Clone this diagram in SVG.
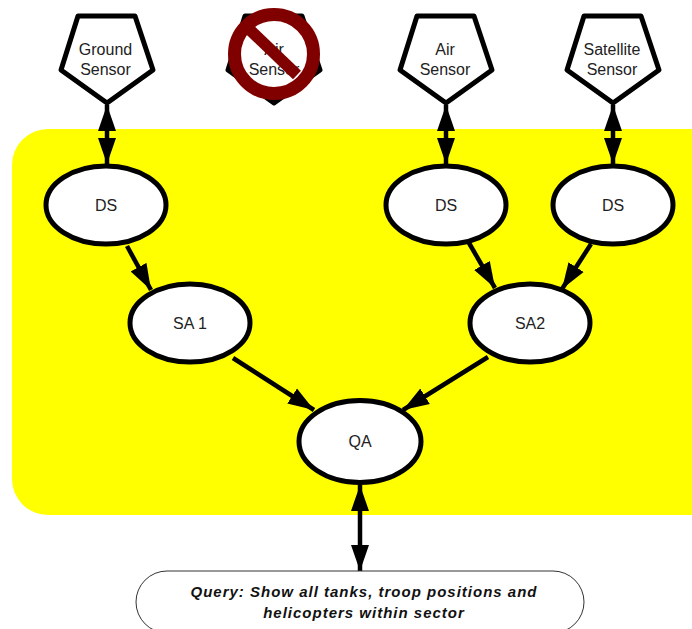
<svg xmlns="http://www.w3.org/2000/svg" width="692" height="629" viewBox="0 0 692 629">
<style>
text{font-family:"Liberation Sans",Arial,sans-serif;font-size:16px;fill:#222;text-anchor:middle}
.n{fill:#fff;stroke:#000;stroke-width:5}
.p{fill:#fff;stroke:#000;stroke-width:5;stroke-linejoin:round}
.c{stroke:#000;stroke-width:4.500;fill:none}
.q{font-size:15px;font-weight:bold;font-style:italic;letter-spacing:1px;fill:#111}
</style>
<defs>
<marker id="a" markerUnits="userSpaceOnUse" markerWidth="27" markerHeight="20" refX="26" refY="10" viewBox="0 0 27 20" orient="auto-start-reverse"><path d="M0 1L26 10L0 19Z" fill="#000"/></marker>
</defs>
<rect id="region" x="12" y="129" width="720" height="386" rx="36" fill="#ff0"/>
<g id="connectors">
<path class="c" d="M107 105V164" marker-start="url(#a)" marker-end="url(#a)"/>
<path class="c" d="M446 105V164" marker-start="url(#a)" marker-end="url(#a)"/>
<path class="c" d="M613 105V164" marker-start="url(#a)" marker-end="url(#a)"/>
<path class="c" d="M127 246L151 290" marker-end="url(#a)"/>
<path class="c" d="M469 243L495 288" marker-end="url(#a)"/>
<path class="c" d="M591 244L562 289" marker-end="url(#a)"/>
<path class="c" d="M233 358L314 410" marker-end="url(#a)"/>
<path class="c" d="M488 357L403 410" marker-end="url(#a)"/>
<path class="c" d="M360 485V571" marker-start="url(#a)" marker-end="url(#a)"/>
</g>
<g id="ground-sensor"><path class="p" d="M78 16H135L153 70L107 103L61 70Z"/><text x="105.500" y="55">Ground</text><text x="105.500" y="75">Sensor</text></g>
<g id="air-sensor-disabled"><path class="p" d="M245 16H302L320 70L274 103L228 70Z"/><text x="274" y="55">Air</text><text x="274" y="75">Sensor</text></g>
<g id="air-sensor"><path class="p" d="M417 16H474L492 70L446 103L400 70Z"/><text x="445" y="55">Air</text><text x="445" y="75">Sensor</text></g>
<g id="satellite-sensor"><path class="p" d="M584 16H641L659 70L613 103L567 70Z"/><text x="612" y="55">Satellite</text><text x="612" y="75">Sensor</text></g>
<g id="no-sign" fill="none" stroke="#800000" stroke-width="13"><circle cx="274" cy="54" r="39.500"/><path stroke-width="11.500" d="M249 29L297 75"/></g>
<g id="ds1"><ellipse class="n" cx="106" cy="205" rx="60" ry="39"/><text x="106" y="211">DS</text></g>
<g id="ds2"><ellipse class="n" cx="446" cy="205" rx="60" ry="39"/><text x="446" y="211">DS</text></g>
<g id="ds3"><ellipse class="n" cx="613" cy="205" rx="60" ry="39"/><text x="613" y="211">DS</text></g>
<g id="sa1"><ellipse class="n" cx="190" cy="323" rx="60" ry="39"/><text x="190" y="329">SA 1</text></g>
<g id="sa2"><ellipse class="n" cx="530" cy="323" rx="60" ry="39"/><text x="530" y="329">SA2</text></g>
<g id="qa"><ellipse class="n" cx="360" cy="441.500" rx="61" ry="41"/><text x="360" y="447">QA</text></g>
<g id="query"><rect x="136" y="571" width="448" height="62" rx="31" fill="#fff" stroke="#333" stroke-width="1"/>
<text class="q" x="364" y="597">Query: Show all tanks, troop positions and</text><text class="q" x="364" y="618">helicopters within sector</text></g>
</svg>
